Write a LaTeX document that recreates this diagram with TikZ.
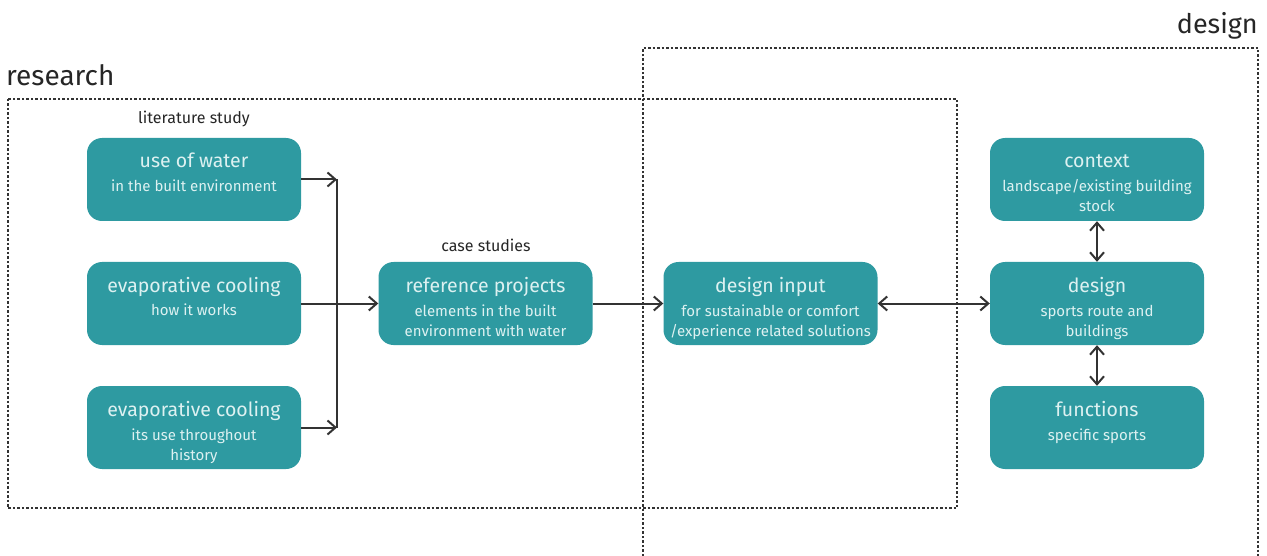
\documentclass[tikz,border=0pt]{standalone}
\usepackage{fontspec}
\setmainfont{Fira Sans}
\usetikzlibrary{arrows.meta}
\definecolor{teal1}{HTML}{2E9AA1}
\definecolor{boxtext}{HTML}{DDF1F1}
\definecolor{ink}{HTML}{333333}
\tikzset{
  x=1pt,y=-1pt,
  pbox/.style={draw=none,fill=teal1,rounded corners=15pt,minimum width=214pt,minimum height=83pt,inner sep=0pt},
  ttl/.style={text=boxtext,font=\fontsize{19.5}{22}\selectfont,anchor=base,inner sep=0pt},
  sub/.style={text=boxtext,font=\fontsize{15}{20}\selectfont,anchor=base,align=center,inner sep=0pt},
  frame/.style={draw=ink,line width=1.3pt,dash pattern=on 2.5pt off 2pt},
  conn/.style={draw=ink,line width=2pt,-{Straight Barb[length=8pt,width=14pt]}},
  conn2/.style={draw=ink,line width=2pt,{Straight Barb[length=8pt,width=14pt]}-{Straight Barb[length=8pt,width=14pt]}},
  lbl/.style={text=black!85,inner sep=0pt}
}
\begin{document}
\begin{tikzpicture}
\useasboundingbox (0,0) rectangle (1267,556);
% frames
\draw[frame] (8,99) rectangle (957,508);
\draw[frame] (643,556) -- (643,48) -- (1258,48) -- (1258,556);
\node[lbl,anchor=west,font=\fontsize{28}{32}\selectfont] (research) at (6,75) {research};
\node[lbl,anchor=east,font=\fontsize{27}{30}\selectfont] (designlbl) at (1258,26) {design};
\node[lbl,font=\fontsize{16}{18}\selectfont] (lit) at (194,119) {literature study};
\node[lbl,font=\fontsize{16}{18}\selectfont] (cases) at (486,245) {case studies};
% boxes
\node[pbox] (b1) at (194,179.5) {};
\node[pbox] (b2) at (194,303.5) {};
\node[pbox] (b3) at (194,427.5) {};
\node[pbox] (ref) at (485.5,303.5) {};
\node[pbox] (din) at (770.5,303.5) {};
\node[pbox] (ctx) at (1097,179.5) {};
\node[pbox] (des) at (1097,303.5) {};
\node[pbox] (fun) at (1097,427.5) {};
% texts
\node[ttl] (b1t) at (194,168) {use of water};
\node[sub] (b1s) at (194,192) {in the built environment};
\node[ttl] (b2t) at (194,292) {evaporative cooling};
\node[sub] (b2s) at (194,316) {how it works};
\node[ttl] (b3t) at (194,416) {evaporative cooling};
\node[sub] (b3s) at (194,460) {its use throughout\\history};
\node[ttl] (reft) at (485.5,292) {reference projects};
\node[sub] (refs) at (485.5,336) {elements in the built\\environment with water};
\node[ttl] (dint) at (770.5,292) {design input};
\node[sub] (dins) at (770.5,336) {for sustainable or comfort\\/experience related solutions};
\node[ttl] (ctxt) at (1097,168) {context};
\node[sub] (ctxs) at (1097,212) {landscape/existing building\\stock};
\node[ttl] (dest) at (1097,292) {design};
\node[sub] (dess) at (1097,336) {sports route and\\buildings};
\node[ttl] (funt) at (1097,416) {functions};
\node[sub] (funs) at (1097,440) {specific sports};
% connectors
\coordinate (jt) at (337,179.5);
\coordinate (jb) at (337,427.5);
\draw[draw=ink,line width=2pt] (jt) -- (jb);
\draw[conn] (b1.east) -- (jt);
\draw[conn] (b3.east) -- (jb);
\draw[conn] (b2.east) -- (ref.west);
\draw[conn] (ref.east) -- (din.west);
\draw[conn2] (din.east) -- (des.west);
\draw[conn2] (ctx.south) -- (des.north);
\draw[conn2] (des.south) -- (fun.north);
\end{tikzpicture}
\end{document}
